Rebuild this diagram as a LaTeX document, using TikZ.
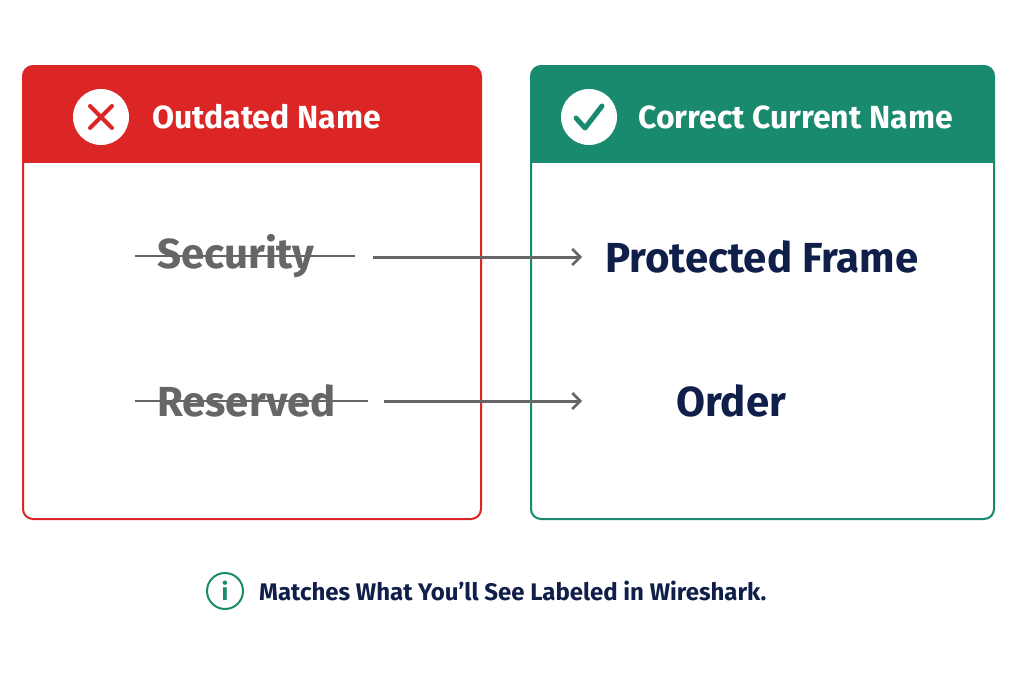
\documentclass[tikz,border=0pt]{standalone}
\usepackage{fontspec}
\setmainfont{Fira Sans}
\begin{document}
\begin{tikzpicture}[x=1pt,y=-1pt,
  hdr/.style={font=\fontsize{32}{36}\selectfont\bfseries,text=white,anchor=west,inner sep=0},
  old/.style={font=\fontsize{42}{46}\selectfont\bfseries,text=gray1,inner sep=0},
  new/.style={font=\fontsize{42}{46}\selectfont\bfseries,text=navy,inner sep=0},
  arr/.style={line width=3pt,draw=gray1,-{Straight Barb[length=8pt,width=16pt,line width=2.5pt]}},
  strike/.style={line width=2.5pt,draw=gray1}]
\usetikzlibrary{arrows.meta}
\definecolor{red1}{HTML}{DC2626}
\definecolor{teal1}{HTML}{1A8A6E}
\definecolor{gray1}{HTML}{666666}
\definecolor{navy}{HTML}{0F1F4A}
\useasboundingbox (0,0) rectangle (1024,683);
\fill[white] (0,0) rectangle (1024,683);
% left box
\draw[red1,line width=2pt,rounded corners=10pt] (23,66) rectangle (481,519);
\fill[red1,rounded corners=10pt] (23,66) rectangle (481,120);
\fill[red1] (23,100) rectangle (481,163);
% right box
\draw[teal1,line width=2pt,rounded corners=10pt] (531,66) rectangle (994,519);
\fill[teal1,rounded corners=10pt] (531,66) rectangle (994,120);
\fill[teal1] (531,100) rectangle (994,163);
% icons
\node[circle,fill=white,minimum size=56pt,inner sep=0] (ix) at (101,117) {};
\draw[red1,line width=4pt,line cap=round] (90,106) -- (112,128) (112,106) -- (90,128);
\node[circle,fill=white,minimum size=56pt,inner sep=0] (ic) at (589,117) {};
\draw[teal1,line width=5pt,line cap=round,line join=round] (576,118) -- (585,128) -- (602,106);
\node[hdr] (h1) at (152,117) {Outdated Name};
\node[hdr] (h2) at (638,117) {Correct Current Name};
% rows
\node[old,anchor=west] (sec) at (157,256) {Security};
\draw[strike] (135,256) -- (355,256);
\node[new,anchor=west] (pf) at (605,257) {Protected Frame};
\coordinate (a1) at (373,257);
\draw[arr] (a1) -- (pf.west -| 582,257);
\node[old,anchor=west] (res) at (157,401) {Reserved};
\draw[strike] (135,401) -- (368,401);
\node[new,anchor=west] (ord) at (676,401) {Order};
\coordinate (a2) at (384,401);
\coordinate (a2e) at (582,401);
\draw[arr] (a2) -- (a2e);
% footer
\node[circle,draw=teal1,line width=2pt,minimum size=36pt,inner sep=0,text=teal1,font=\fontsize{24}{26}\selectfont\bfseries] (inf) at (225,591) {i};
\node[anchor=west,inner sep=0,text=navy,font=\fontsize{24}{28}\selectfont\bfseries] (ft) at (259,591) {Matches What You’ll See Labeled in Wireshark.};
\end{tikzpicture}
\end{document}
